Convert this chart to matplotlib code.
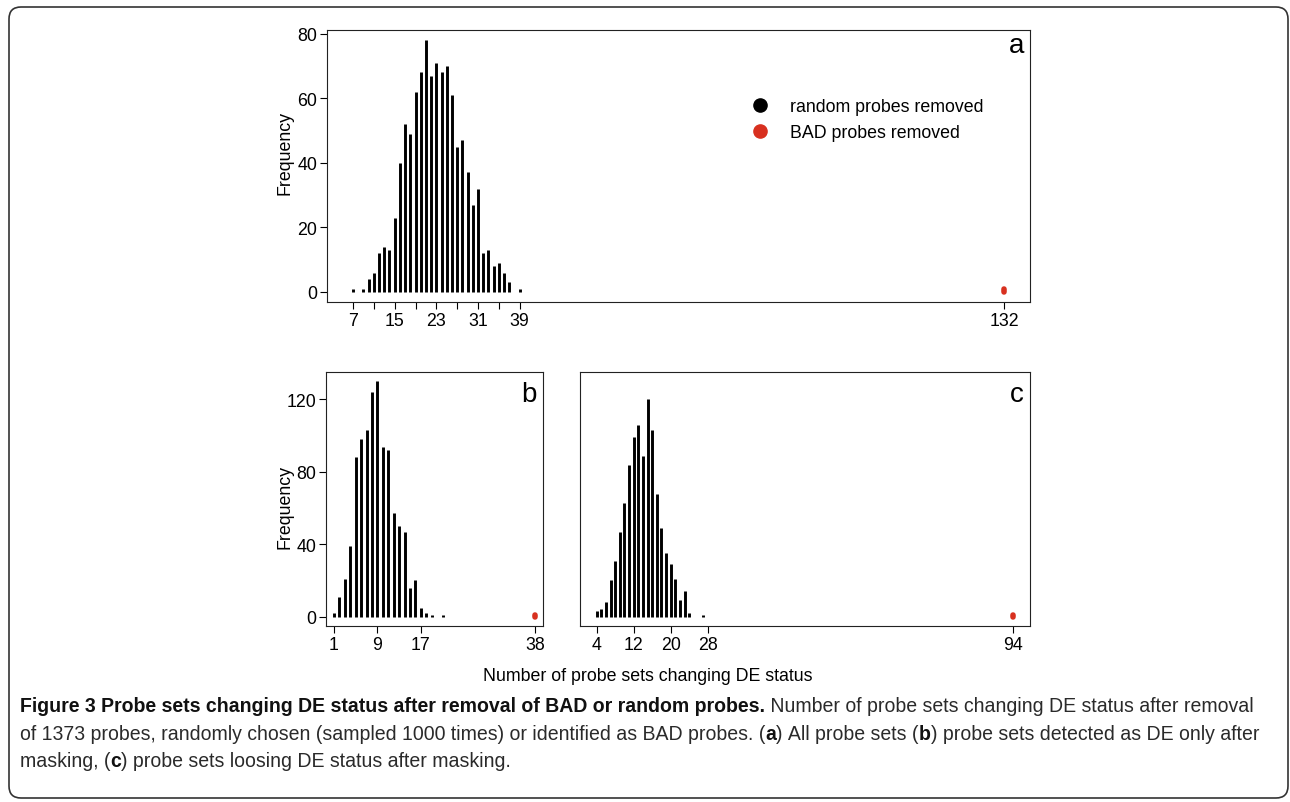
import matplotlib
matplotlib.use('Agg')
import matplotlib.pyplot as plt
from matplotlib.lines import Line2D
from matplotlib.patches import FancyBboxPatch
from matplotlib.transforms import IdentityTransform
from matplotlib import font_manager

# ---- data ----
# (a) all probe sets
a_x = [7, 9, 10, 11, 12, 13, 14, 15, 16, 17, 18, 19, 20, 21, 22, 23, 24, 25, 26,
       27, 28, 29, 30, 31, 32, 33, 34, 35, 36, 37, 39]
a_freq = [1, 1, 4, 6, 12, 14, 13, 23, 40, 52, 49, 62, 68, 78, 67, 71, 68, 70, 61,
          45, 47, 37, 27, 32, 12, 13, 8, 9, 6, 3, 1]
a_bad = 132
a_ticks = [7, 11, 15, 19, 23, 27, 31, 35, 39, 132]
a_labels = ['7', '', '15', '', '23', '', '31', '', '39', '132']

# (b) DE only after masking
b_x = [1, 2, 3, 4, 5, 6, 7, 8, 9, 10, 11, 12, 13, 14, 15, 16, 17, 18, 19, 21]
b_freq = [2, 11, 21, 39, 88, 98, 103, 124, 130, 94, 92, 57, 50, 47, 16, 20, 5, 2, 1, 1]
b_bad = 38
b_ticks = [1, 9, 17, 38]

# (c) losing DE status after masking
c_x = [4, 5, 6, 7, 8, 9, 10, 11, 12, 13, 14, 15, 16, 17, 18, 19, 20, 21, 22, 23, 24, 27]
c_freq = [3, 4, 8, 20, 31, 47, 63, 84, 99, 106, 89, 120, 103, 68, 49, 35, 29, 21, 9, 14, 2, 1]
c_bad = 94
c_ticks = [4, 12, 20, 28, 94]

red = '#d8301f'
W, H = 1290, 803
FS = 12.8

plt.rcParams['font.family'] = ['Liberation Sans', 'DejaVu Sans']

fig = plt.figure(figsize=(W / 100, H / 100), dpi=100)


def box(l, t, r, b):
    return [l / W, 1 - b / H, (r - l) / W, (b - t) / H]


def panel(rect, xs, fr, bad, ticks, labels, ymax, letter, yaxis=True):
    ax = fig.add_axes(rect)
    ax.vlines(xs, 0, fr, colors='black', lw=2.1, capstyle='butt')
    ax.plot([bad, bad], [0, 1], color=red, lw=4.0, solid_capstyle='round')
    lo, hi = min(xs), bad
    pad = 0.04 * (hi - lo)
    ax.set_xlim(lo - pad, hi + pad)
    ax.set_ylim(-0.04 * ymax, 1.04 * ymax)
    ax.set_xticks(ticks)
    ax.set_xticklabels(labels)
    ax.tick_params(direction='out', length=5, width=0.8, labelsize=FS, pad=2)
    if not yaxis:
        ax.set_yticks([])
    for s in ax.spines.values():
        s.set_linewidth(0.8)
        s.set_color('#222222')
    ax.text(1 - 6 / (rect[2] * W), 0.0, letter, transform=ax.transAxes,
            ha='right', va='baseline', fontsize=20)
    return ax


ax_a = panel(box(327, 31, 1030, 303), a_x, a_freq, a_bad, a_ticks, a_labels,
             max(a_freq), 'a')
ax_a.texts[0].set_y((303 - 53) / 272)
ax_a.set_yticks([0, 20, 40, 60, 80])

ax_b = panel(box(326, 373, 543, 627), b_x, b_freq, b_bad, b_ticks,
             [str(t) for t in b_ticks], max(b_freq), 'b')
ax_b.texts[0].set_y((627 - 402) / 254)
ax_b.set_yticks([0, 40, 80, 120])

ax_c = panel(box(580, 373, 1030, 627), c_x, c_freq, c_bad, c_ticks,
             [str(t) for t in c_ticks], max(b_freq), 'c', yaxis=False)
ax_c.texts[0].set_y((627 - 402) / 254)

fig.text(285 / W, 1 - 153 / H, 'Frequency', rotation=90, ha='center', va='center', fontsize=FS)
fig.text(285 / W, 1 - 507 / H, 'Frequency', rotation=90, ha='center', va='center', fontsize=FS)
fig.text(648 / W, 1 - 677 / H, 'Number of probe sets changing DE status',
         ha='center', va='center', fontsize=FS)

handles = [Line2D([], [], marker='o', ls='none', color='black', markersize=9.5),
           Line2D([], [], marker='o', ls='none', color=red, markersize=9.5)]
fig.legend(handles, ['random probes removed', 'BAD probes removed'],
           loc='upper left', bbox_to_anchor=(742 / W, 1 - 90 / H),
           frameon=False, fontsize=FS, borderpad=0, handlelength=1,
           handletextpad=1.2, labelspacing=0.5)

# outer frame
fig.patches.append(FancyBboxPatch((9, H - 799), 1279, 791,
                                  boxstyle='round,pad=0,rounding_size=12',
                                  transform=IdentityTransform(), fill=False,
                                  ec='#333333', lw=1.2))

# caption
names = {f.name for f in font_manager.fontManager.ttflist}
cap_font = 'Liberation Sans Narrow' if 'Liberation Sans Narrow' in names else 'Liberation Sans'

lines = [
    [('Figure 3 Probe sets changing DE status after removal of BAD or random probes.', True),
     (' Number of probe sets changing DE status after removal', False)],
    [('of 1373 probes, randomly chosen (sampled 1000 times) or identified as BAD probes. (', False),
     ('a', True), (') All probe sets (', False), ('b', True),
     (') probe sets detected as DE only after', False)],
    [('masking, (', False), ('c', True), (') probe sets loosing DE status after masking.', False)],
]
line_y = [707, 735, 762]
line_end = [1276, 1227]

renderer = fig.canvas.get_renderer()


def seg_width(txt, bold, size):
    t = fig.text(0, 0, txt.replace(' ', '\u00a0'), fontsize=size, family=cap_font,
                 fontweight='bold' if bold else 'normal')
    w = t.get_window_extent(renderer).width
    t.remove()
    return w


# one size for all lines, between the fits of the first two lines
size = 13
fits = [size * (line_end[i] - 20) / sum(seg_width(s, b, size) for s, b in lines[i])
        for i in range(2)]
size = sum(fits) / 2

for segs, y in zip(lines, line_y):
    x = 20
    for txt, bold in segs:
        fig.text(x / W, 1 - y / H, txt.replace(' ', '\u00a0'), fontsize=size, family=cap_font,
                 fontweight='bold' if bold else 'normal', va='center', ha='left',
                 color='#111111' if bold else '#2a2a2a')
        x += seg_width(txt, bold, size)

fig.savefig('out.png', dpi=100)
